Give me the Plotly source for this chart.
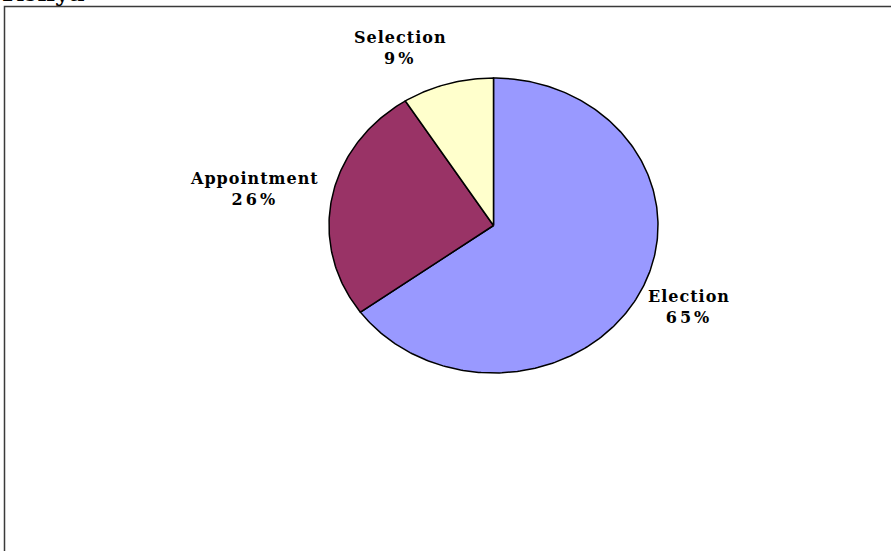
import numpy as np
import plotly.graph_objects as go

# Selection method shares (percent)
categories = ["Election", "Appointment", "Selection"]
shares = [65, 26, 9]
slice_colors = ["#9999FF", "#993366", "#FFFFCC"]
chart_title = "Kenya"

W, H = 891, 551
# pixel geometry of the (slightly elliptical) pie
cx, cy = 493.5, 225.5
rx, ry = 164.5, 147.5

# axis ranges so that one data unit = rx px horizontally, ry px vertically
x_range = [-cx / rx, (W - cx) / rx]
y_range = [-(H - cy) / ry, cy / ry]

fig = go.Figure()

total = float(sum(shares))
start = 0.0
mids = []
for name, val, col in zip(categories, shares, slice_colors):
    frac = val / total
    theta = np.linspace(start, start + frac, max(8, int(400 * frac))) * 2 * np.pi
    xs = np.concatenate([[0.0], np.sin(theta), [0.0]])
    ys = np.concatenate([[0.0], np.cos(theta), [0.0]])
    fig.add_trace(go.Scatter(
        x=xs, y=ys, mode="lines", fill="toself", fillcolor=col,
        line=dict(color="#000000", width=1.5), name=name,
        hoverinfo="skip", showlegend=False,
    ))
    mids.append((start + frac / 2) * 2 * np.pi)
    start += frac

# label offsets (px) from the rim point at each slice's mid-angle
label_shift = [(49, -15), (-77, 9), (-47, 36)]

label_font = dict(family="DejaVu Serif", size=16, color="#000000")
for name, val, mid, (dx, dy) in zip(categories, shares, mids, label_shift):
    txt = (f'<span style="letter-spacing:1px"><b>{name}</b></span><br>'
           f'<span style="letter-spacing:3px"><b>{val}%</b></span>')
    fig.add_annotation(
        x=float(np.sin(mid)), y=float(np.cos(mid)), xref="x", yref="y",
        text=txt, showarrow=False, xanchor="center", yanchor="middle",
        xshift=dx, yshift=dy, font=label_font, align="center",
    )

# chart title, sitting above the frame
fig.add_annotation(
    x=0, y=1 - 9 / H, xref="paper", yref="paper",
    text=f"<b>{chart_title}</b>", showarrow=False,
    xanchor="left", yanchor="bottom",
    font=dict(family="DejaVu Serif", size=24, color="#000000"),
)

# chart area frame
fig.add_shape(
    type="rect", xref="paper", yref="paper",
    x0=4.5 / W, x1=1.02, y0=-0.02, y1=1 - 6.5 / H,
    line=dict(color="#3a3a3a", width=1.5), fillcolor="rgba(0,0,0,0)",
    layer="above",
)

fig.update_layout(
    width=W, height=H,
    margin=dict(l=0, r=0, t=0, b=0),
    paper_bgcolor="#FFFFFF", plot_bgcolor="#FFFFFF",
    xaxis=dict(range=x_range, visible=False, fixedrange=True),
    yaxis=dict(range=y_range, visible=False, fixedrange=True),
    showlegend=False,
)

fig.write_html("out.html")
